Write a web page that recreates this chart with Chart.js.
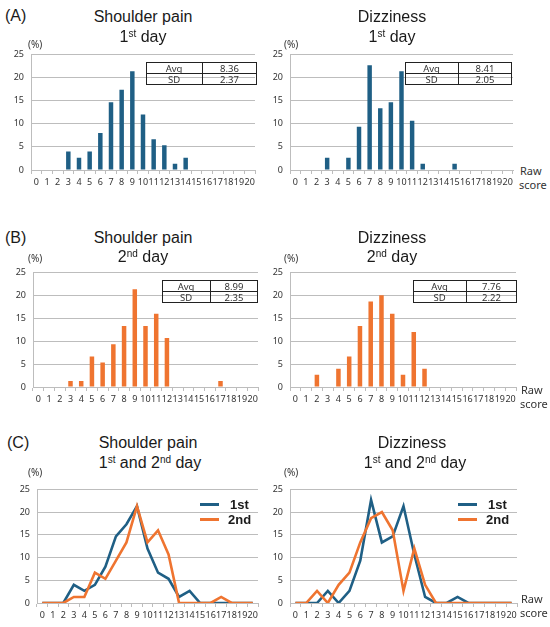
<!DOCTYPE html>
<html>
<head>
<meta charset="utf-8">
<script src="https://cdn.jsdelivr.net/npm/chart.js@4"></script>
<style>
  body { margin: 0; background: #fff; }
  #page { position: relative; width: 550px; height: 627px; overflow: hidden; font-family: "Liberation Sans", Arial, sans-serif; color: #1a1a1a; }
  #page canvas { position: absolute; }
  .t { position: absolute; white-space: nowrap; transform: translate(-50%, -50%); font-size: 16px; line-height: 18px; }
  .t sup { font-size: 10px; vertical-align: 5px; line-height: 0; }
  .lbl { position: absolute; white-space: nowrap; font-family: "Noto Sans", sans-serif; font-size: 10px; color: #333; transform: translateY(-50%); }
  .panel { position: absolute; font-size: 16px; transform: translateY(-50%); }
  .box { position: absolute; box-sizing: border-box; border: 1px solid #222; }
  .cell { position: absolute; text-align: center; font-family: "Noto Sans", sans-serif; font-size: 9.5px; color: #333; line-height: 11px; }
  .rule { position: absolute; background: #222; }
  .leg { position: absolute; font-weight: bold; font-size: 13px; transform: translateY(-50%); }
  .legline { position: absolute; height: 3px; }
</style>
</head>
<body>
<div id="page"></div>
<script>
const scores = ['0','1','2','3','4','5','6','7','8','9','10','11','12','13','14','15','16','17','18','19','20'];
const shoulderDay1 = [0,0,0,4,2.67,4,8,14.67,17.33,21.33,12,6.67,5.33,1.33,2.67,0,0,0,0,0,0];
const dizzinessDay1 = [0,0,0,2.67,0,2.67,9.33,22.67,13.33,14.67,21.33,10.67,1.33,0,0,1.33,0,0,0,0,0];
const shoulderDay2 = [0,0,0,1.33,1.33,6.67,5.33,9.33,13.33,21.33,13.33,16,10.67,0,0,0,0,1.33,0,0,0];
const dizzinessDay2 = [0,0,2.67,0,4,6.67,13.33,18.67,20,16,2.67,12,4,0,0,0,0,0,0,0,0];
const statNames = ['Avg', 'SD'];
const shoulderDay1Stats = ['8.36', '2.37'];
const dizzinessDay1Stats = ['8.41', '2.05'];
const shoulderDay2Stats = ['8.99', '2.35'];
const dizzinessDay2Stats = ['7.76', '2.22'];
const legendNames = ['1st', '2nd'];

const BLUE = '#1f5f85';
const ORANGE = '#ef7430';
const GRID = '#bdbdbd';

const page = document.getElementById('page');

function add(html) {
    page.insertAdjacentHTML('beforeend', html);
}

// chart area boxes
const panels = [
    { x0: 31, x1: 255, y0: 50, y1: 170, kind: 'bar', sets: [[shoulderDay1, BLUE]] },
    { x0: 290, x1: 513, y0: 50, y1: 170, kind: 'bar', sets: [[dizzinessDay1, BLUE]] },
    { x0: 33, x1: 258, y0: 268, y1: 387, kind: 'bar', sets: [[shoulderDay2, ORANGE]] },
    { x0: 290, x1: 516, y0: 268, y1: 387, kind: 'bar', sets: [[dizzinessDay2, ORANGE]] },
    { x0: 37, x1: 258, y0: 485, y1: 603, kind: 'line', sets: [[shoulderDay1, BLUE], [shoulderDay2, ORANGE]] },
    { x0: 290, x1: 517, y0: 485, y1: 603, kind: 'line', sets: [[dizzinessDay1, BLUE], [dizzinessDay2, ORANGE]] },
];

const YW = 30, PT = 8, XH = 22, PR = 4;

panels.forEach((p, i) => {
    const cv = document.createElement('canvas');
    cv.width = p.x1 - p.x0 + YW + PR;
    cv.height = p.y1 - p.y0 + PT + XH;
    cv.style.left = (p.x0 - YW) + 'px';
    cv.style.top = (p.y0 - PT) + 'px';
    page.appendChild(cv);

    const datasets = p.sets.map(([vals, col], k) => (p.kind === 'bar' ? {
        data: vals,
        backgroundColor: col,
        barPercentage: 0.42,
        categoryPercentage: 1,
    } : {
        data: vals,
        borderColor: col,
        borderWidth: 2.6,
        pointRadius: 0,
        tension: 0,
        order: 1 - k,
    }));

    new Chart(cv, {
        type: p.kind,
        data: { labels: scores, datasets: datasets },
        options: {
            responsive: false,
            animation: false,
            layout: { padding: { top: PT, right: PR, left: 0, bottom: 0 } },
            plugins: { legend: { display: false }, tooltip: { enabled: false } },
            scales: {
                x: {
                    offset: true,
                    grid: { offset: true, drawOnChartArea: false, drawTicks: true, tickLength: 4, color: GRID },
                    border: { color: GRID },
                    ticks: { autoSkip: false, maxRotation: 0, padding: 3, color: '#333', font: { family: 'Noto Sans', size: 9 } },
                    afterFit: s => { s.height = XH; },
                },
                y: {
                    min: 0,
                    max: 25,
                    ticks: { stepSize: 5, padding: 7, color: '#333', font: { family: 'Noto Sans', size: 9 } },
                    grid: { color: GRID, drawTicks: false },
                    border: { color: GRID },
                    afterFit: s => { s.width = YW; },
                }
            }
        }
    });
});

// panel letters
add('<div class="panel" style="left:5px;top:16px">(A)</div>');
add('<div class="panel" style="left:5px;top:238px">(B)</div>');
add('<div class="panel" style="left:7px;top:443px">(C)</div>');

// titles
add('<div class="t" style="left:143px;top:17px">Shoulder pain</div>');
add('<div class="t" style="left:143px;top:37px">1<sup>st</sup> day</div>');
add('<div class="t" style="left:392px;top:17px">Dizziness</div>');
add('<div class="t" style="left:392px;top:37px">1<sup>st</sup> day</div>');
add('<div class="t" style="left:143px;top:238px">Shoulder pain</div>');
add('<div class="t" style="left:143px;top:257px">2<sup>nd</sup> day</div>');
add('<div class="t" style="left:392px;top:238px">Dizziness</div>');
add('<div class="t" style="left:392px;top:257px">2<sup>nd</sup> day</div>');
add('<div class="t" style="left:148px;top:443px">Shoulder pain</div>');
add('<div class="t" style="left:150px;top:463px">1<sup>st</sup> and 2<sup>nd</sup> day</div>');
add('<div class="t" style="left:412px;top:443px">Dizziness</div>');
add('<div class="t" style="left:415px;top:463px">1<sup>st</sup> and 2<sup>nd</sup> day</div>');

// unit labels
[[28, 44], [284, 44], [28, 258], [284, 258], [28, 472], [284, 472]].forEach(([x, y]) => {
    add(`<div class="lbl" style="left:${x}px;top:${y}px">(%)</div>`);
});
[[520, 170], [521, 389], [521, 598]].forEach(([x, y]) => {
    add(`<div class="lbl" style="left:${x}px;top:${y}px;font-size:11px">Raw</div>`);
    add(`<div class="lbl" style="left:${x - 1}px;top:${y + 14}px;font-size:11px">score</div>`);
});

// stats boxes (two rows, two columns)
function statBox(x, y, w, c1, vals) {
    const h = 23, rh = h / 2;
    add(`<div class="box" style="left:${x}px;top:${y}px;width:${w}px;height:${h}px"></div>`);
    add(`<div class="rule" style="left:${x}px;top:${y + Math.round(rh) - 1}px;width:${w}px;height:1px"></div>`);
    add(`<div class="rule" style="left:${x + c1}px;top:${y}px;width:1px;height:${h}px"></div>`);
    statNames.forEach((n, k) => {
        const top = y + k * rh + 0.5;
        add(`<div class="cell" style="left:${x}px;top:${top}px;width:${c1}px">${n}</div>`);
        add(`<div class="cell" style="left:${x + c1}px;top:${top}px;width:${w - c1}px">${vals[k]}</div>`);
    });
}
statBox(146, 62, 111, 56, shoulderDay1Stats);
statBox(405, 62, 107, 53, dizzinessDay1Stats);
statBox(162, 280, 96, 48, shoulderDay2Stats);
statBox(413, 280, 104, 53, dizzinessDay2Stats);

// legends for the line panels
[[200, 230], [458, 488]].forEach(([lx, tx]) => {
    [BLUE, ORANGE].forEach((col, k) => {
        const y = 504 + k * 15;
        add(`<div class="legline" style="left:${lx}px;top:${y - 1}px;width:19px;background:${col}"></div>`);
        add(`<div class="leg" style="left:${tx - (k ? 2 : 0)}px;top:${y}px">${legendNames[k]}</div>`);
    });
});
</script>
</body>
</html>
